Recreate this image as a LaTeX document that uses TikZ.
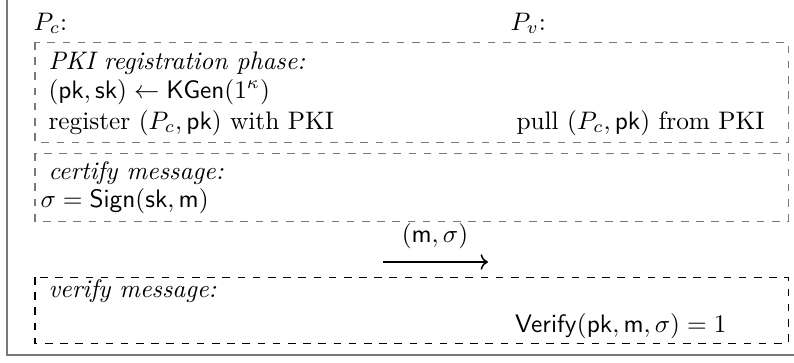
\documentclass[tikz,border=0pt]{standalone}
\usepackage{amsmath}
\usetikzlibrary{arrows.meta,positioning}
\definecolor{framegray}{RGB}{120,120,120}

\begin{document}
\begin{tikzpicture}[
    x=0.395pt, y=-0.395pt,
    frameline/.style={draw=framegray, line width=0.8pt},
    phasebox/.style={draw=framegray, dashed, line width=0.4pt},
    verifybox/.style={draw=black, dashed, line width=0.4pt},
    lbl/.style={anchor=base west, inner sep=0pt},
    rlbl/.style={anchor=base east, inner sep=0pt},
    msgarr/.style={->, line width=0.6pt}
]
\useasboundingbox (0,0) rectangle (794,362);
\draw[frameline] (7,-10) -- (7,355) -- (800,355);

% parties
\node[lbl] (pc) at (33,30) {$P_c$:};
\node[lbl] (pv) at (510,30) {$P_v$:};

% PKI registration
\draw[phasebox] (35,42) rectangle (788,142);
\node[lbl] (reg) at (48,69) {\textit{PKI registration phase:}};
\node[lbl] (kgen) at (48,98) {$(\mathsf{pk},\mathsf{sk}) \leftarrow \mathsf{KGen}(1^\kappa)$};
\node[lbl] (regpki) at (48,129) {register $(P_c,\mathsf{pk})$ with PKI};
\node[rlbl] (pull) at (765,129) {pull $(P_c,\mathsf{pk})$ from PKI};

% certify
\draw[phasebox] (35,153) rectangle (788,221);
\node[lbl] (cert) at (48,179) {\textit{certify message:}};
\node[lbl] (sign) at (40,207) {$\sigma = \mathsf{Sign}(\mathsf{sk},\mathsf{m})$};

% message
\coordinate (src) at (383,262);
\coordinate (dst) at (488,262);
\draw[msgarr] (src) -- (dst);
\node[anchor=base, inner sep=0pt] (msg) at (435,242) {$(\mathsf{m},\sigma)$};

% verify
\draw[verifybox] (35,277) rectangle (788,343);
\node[lbl] (vmsg) at (48,297) {\textit{verify message:}};
\node[rlbl] (ver) at (727,332) {$\mathsf{Verify}(\mathsf{pk},\mathsf{m},\sigma) = 1$};
\end{tikzpicture}
\end{document}
